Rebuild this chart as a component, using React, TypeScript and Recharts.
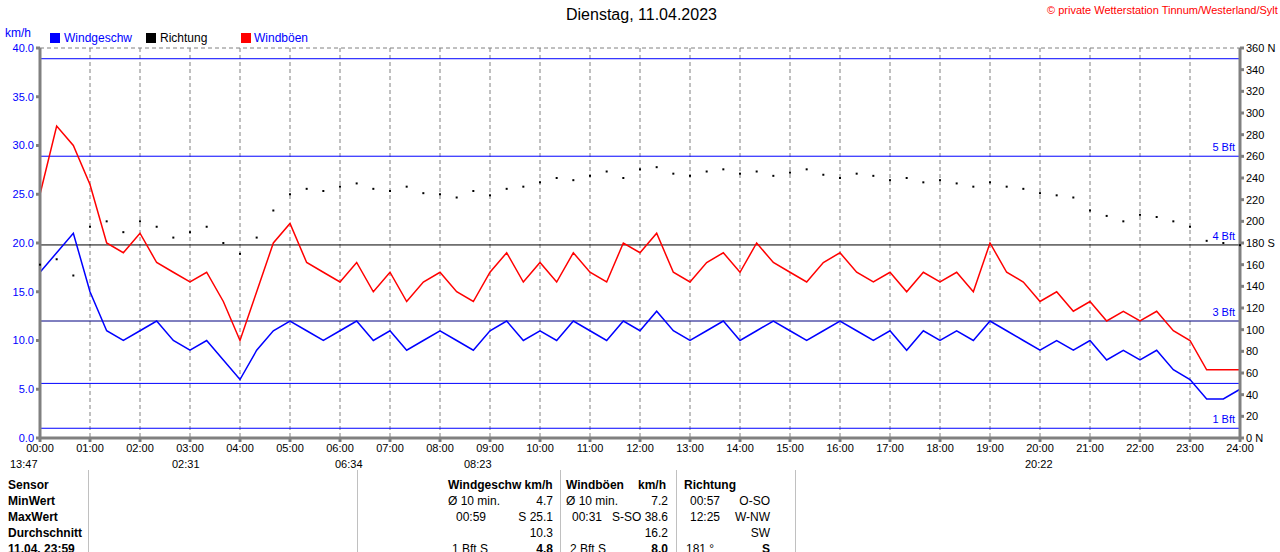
import { ComposedChart, Line, Scatter, XAxis, YAxis, CartesianGrid, ReferenceLine } from "recharts";

// 20-minute steps from 00:00 to 24:00
const windSpeed = [
  17, 19, 21, 15, 11, 10, 11, 12, 10, 9, 10, 8, 6, 9, 11, 12, 11, 10, 11, 12, 10, 11, 9, 10, 11,
  10, 9, 11, 12, 10, 11, 10, 12, 11, 10, 12, 11, 13, 11, 10, 11, 12, 10, 11, 12, 11, 10, 11, 12,
  11, 10, 11, 9, 11, 10, 11, 10, 12, 11, 10, 9, 10, 9, 10, 8, 9, 8, 9, 7, 6, 4, 4, 5,
];
const windGust = [
  25, 32, 30, 26, 20, 19, 21, 18, 17, 16, 17, 14, 10, 15, 20, 22, 18, 17, 16, 18, 15, 17, 14, 16,
  17, 15, 14, 17, 19, 16, 18, 16, 19, 17, 16, 20, 19, 21, 17, 16, 18, 19, 17, 20, 18, 17, 16, 18,
  19, 17, 16, 17, 15, 17, 16, 17, 15, 20, 17, 16, 14, 15, 13, 14, 12, 13, 12, 13, 11, 10, 7, 7, 7,
];
const direction = [
  160, 165, 150, 195, 200, 190, 200, 195, 185, 190, 195, 180, 170, 185, 210, 225, 230, 228, 232,
  235, 230, 228, 232, 226, 225, 222, 228, 224, 230, 232, 236, 240, 238, 242, 246, 240, 248, 250,
  244, 242, 246, 248, 244, 246, 242, 245, 248, 243, 240, 244, 242, 238, 240, 236, 238, 235, 232,
  236, 232, 230, 226, 224, 222, 210, 205, 200, 206, 204, 200, 195, 182, 180, 178,
];
const hourTicks = Array.from({ length: 25 }, (_, i) => i);
const speedTicks = [0, 5, 10, 15, 20, 25, 30, 35, 40];
const dirTicks = Array.from({ length: 19 }, (_, i) => i * 20);
const beaufort = [
  { v: 1.0, label: "1 Bft", color: "#0000ff" },
  { v: 5.6, label: "", color: "#0000ff" },
  { v: 12.0, label: "3 Bft", color: "#000080" },
  { v: 19.8, label: "4 Bft", color: "#000000" },
  { v: 28.9, label: "5 Bft", color: "#0000ff" },
  { v: 38.9, label: "", color: "#0000ff" },
];

const data = windSpeed.map((s, i) => ({ t: i / 3, speed: s, gust: windGust[i], dir: direction[i] }));

const font = "'Liberation Sans', Arial, sans-serif";
const abs = (x: number, y: number, extra: any = {}) => ({ position: "absolute" as const, left: x, top: y, ...extra });

export default function App() {
  const txt = (x: number, y: number, s: string, extra: any = {}) => (
    <div style={abs(x, y, { whiteSpace: "nowrap", ...extra })}>{s}</div>
  );
  const rtxt = (x: number, y: number, s: string, extra: any = {}) => (
    <div style={abs(x - 200, y, { width: 200, textAlign: "right", whiteSpace: "nowrap", ...extra })}>{s}</div>
  );
  return (
    <div style={{ position: "absolute", left: 0, top: 0, width: 1280, height: 552, background: "#fff", fontFamily: font, fontSize: 12, color: "#000", overflow: "hidden" }}>
      {txt(566, 6, "Dienstag, 11.04.2023", { fontSize: 16 })}
      {txt(1047, 4, "© private Wetterstation Tinnum/Westerland/Sylt", { color: "#ff0000", fontSize: 11 })}
      {txt(5, 26, "km/h", { color: "#0000ff" })}
      <div style={abs(50, 33, { width: 10, height: 10, background: "#0000ff" })} />
      {txt(64, 31, "Windgeschw", { color: "#0000ff" })}
      <div style={abs(146, 33, { width: 10, height: 10, background: "#000" })} />
      {txt(160, 31, "Richtung")}
      <div style={abs(241, 33, { width: 10, height: 10, background: "#ff0000" })} />
      {txt(254, 31, "Windböen", { color: "#0000ff" })}
      <ComposedChart width={1280} height={460} data={data} margin={{ top: 48, right: 0, left: 0, bottom: 0 }} style={{ position: "absolute", left: 0, top: 0 }}>
        <CartesianGrid stroke="#808080" strokeDasharray="4 3" />
        <XAxis dataKey="t" type="number" domain={[0, 24]} ticks={hourTicks} height={22} stroke="#808080" strokeWidth={3}
          tickFormatter={(v: number) => `${String(v).padStart(2, "0")}:00`} tick={{ fill: "#000", fontSize: 11, fontFamily: font }} tickSize={4} interval={0} />
        <YAxis yAxisId="s" domain={[0, 40]} ticks={speedTicks} width={40} stroke="#808080" strokeWidth={3}
          tickFormatter={(v: number) => v.toFixed(1)} tick={{ fill: "#0000ff", fontSize: 11, fontFamily: font }} tickSize={4} interval={0} />
        <YAxis yAxisId="d" orientation="right" domain={[0, 360]} ticks={dirTicks} width={40} stroke="#808080" strokeWidth={3}
          tickFormatter={(v: number) => (v === 0 || v === 360 ? `${v} N` : v === 180 ? "180 S" : `${v}`)}
          tick={{ fill: "#000", fontSize: 11, fontFamily: font, textAnchor: "start" }} tickSize={4} interval={0} />
        {beaufort.map((b) => (
          <ReferenceLine key={b.v} yAxisId="s" y={b.v} stroke={b.color} strokeWidth={1}
            label={b.label ? { value: b.label, position: "insideBottomRight", fill: "#0000ff", fontSize: 11, fontFamily: font } : undefined} />
        ))}
        <Line yAxisId="s" dataKey="gust" stroke="#ff0000" strokeWidth={1.5} dot={false} isAnimationActive={false} />
        <Line yAxisId="s" dataKey="speed" stroke="#0000ff" strokeWidth={1.5} dot={false} isAnimationActive={false} />
        <Scatter yAxisId="d" dataKey="dir" fill="#000" shape={(p: any) => <rect x={p.cx - 1} y={p.cy - 1} width={2} height={2} fill="#000" />} isAnimationActive={false} />
      </ComposedChart>
      {txt(10, 458, "13:47", { fontSize: 11 })}
      {txt(172, 458, "02:31", { fontSize: 11 })}
      {txt(335, 458, "06:34", { fontSize: 11 })}
      {txt(464, 458, "08:23", { fontSize: 11 })}
      {txt(1025, 458, "20:22", { fontSize: 11 })}
      {[88, 357, 560, 676, 795].map((x) => (
        <div key={x} style={abs(x, 470, { width: 1, height: 82, background: "#c0c0c0" })} />
      ))}
      {txt(8, 478, "Sensor", { fontWeight: "bold" })}
      {txt(8, 494, "MinWert", { fontWeight: "bold" })}
      {txt(8, 510, "MaxWert", { fontWeight: "bold" })}
      {txt(8, 526, "Durchschnitt", { fontWeight: "bold" })}
      {txt(8, 542, "11.04. 23:59", { fontWeight: "bold" })}
      {txt(448, 478, "Windgeschw km/h", { fontWeight: "bold" })}
      {txt(566, 478, "Windböen", { fontWeight: "bold" })}
      {rtxt(666, 478, "km/h", { fontWeight: "bold" })}
      {txt(684, 478, "Richtung", { fontWeight: "bold" })}
      {txt(448, 494, "Ø 10 min.")}{rtxt(553, 494, "4.7")}
      {txt(566, 494, "Ø 10 min.")}{rtxt(668, 494, "7.2")}
      {txt(690, 494, "00:57")}{rtxt(770, 494, "O-SO")}
      {txt(456, 510, "00:59")}{rtxt(553, 510, "S 25.1")}
      {txt(572, 510, "00:31")}{rtxt(668, 510, "S-SO 38.6")}
      {txt(690, 510, "12:25")}{rtxt(770, 510, "W-NW")}
      {rtxt(553, 526, "10.3")}{rtxt(668, 526, "16.2")}{rtxt(770, 526, "SW")}
      {txt(452, 542, "1 Bft S")}{rtxt(553, 542, "4.8", { fontWeight: "bold" })}
      {txt(570, 542, "2 Bft S")}{rtxt(668, 542, "8.0", { fontWeight: "bold" })}
      {txt(686, 542, "181 °")}{rtxt(770, 542, "S", { fontWeight: "bold" })}
    </div>
  );
}
